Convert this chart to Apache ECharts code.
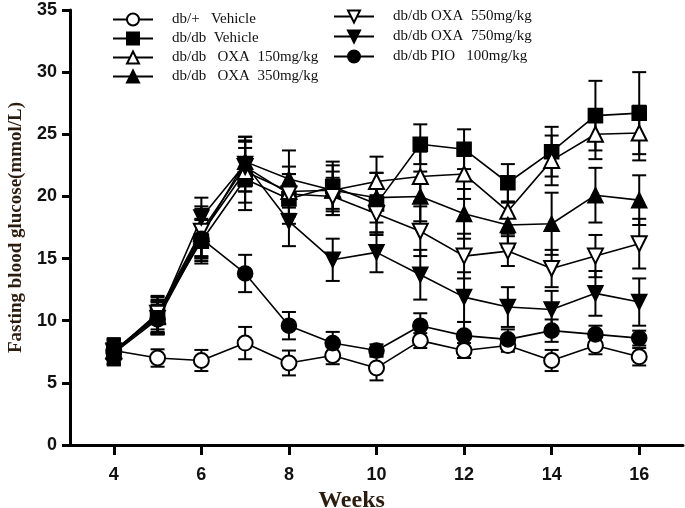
<!DOCTYPE html>
<html><head><meta charset="utf-8">
<script src="https://cdn.jsdelivr.net/npm/echarts@6/dist/echarts.min.js"></script>
<style>html,body{margin:0;padding:0;background:#fff}#c{width:685px;height:508px}</style>
</head><body><div id="c"></div>
<script>
const weeks = [4,5,6,7,8,9,10,11,12,13,14,15,16];
const xTicks = [4,6,8,10,12,14,16];
const names = ["db/+   Vehicle","db/db  Vehicle","db/db   OXA  150mg/kg","db/db   OXA  350mg/kg","db/db OXA  550mg/kg","db/db OXA  750mg/kg","db/db PIO   100mg/kg"];
const dbPlus    = [7.6,7.0,6.8,8.2,6.6,7.2,6.2,8.4,7.6,8.0,6.8,8.0,7.1];
const dbPlusErr = [0.8,0.7,0.85,1.3,1.0,0.7,1.0,0.6,0.6,0.5,0.85,0.7,0.7];
const vehicle    = [7.4,10.5,16.4,21.4,19.8,20.8,19.4,24.2,23.8,21.1,23.6,26.5,26.7];
const vehicleErr = [1.0,1.5,1.8,2.5,2.0,2.0,2.5,1.6,1.6,1.5,2.0,2.8,3.3];
const oxa150    = [7.6,10.4,17.0,22.0,20.4,20.5,21.2,21.6,21.8,18.8,22.9,25.0,25.1];
const oxa150Err = [1.0,1.3,2.0,2.5,2.0,2.0,2.0,2.0,2.0,1.8,2.0,2.0,2.2];
const oxa350    = [7.5,10.3,16.8,22.8,21.4,20.5,19.9,20.0,18.6,17.7,17.8,20.1,19.7];
const oxa350Err = [1.0,1.3,2.0,2.0,2.3,1.5,2.0,2.0,2.0,1.8,2.5,2.2,2.0];
const oxa550    = [7.5,10.6,17.2,22.4,20.2,20.0,18.6,17.2,15.2,15.6,14.2,15.2,16.2];
const oxa550Err = [1.0,1.3,2.0,2.0,1.6,1.5,1.5,2.0,1.8,1.2,1.5,1.7,2.0];
const oxa750    = [7.6,10.2,18.3,22.6,18.0,14.9,15.5,13.7,11.9,11.1,10.9,12.2,11.5];
const oxa750Err = [0.9,1.3,1.6,2.2,2.0,1.7,1.6,2.0,2.0,1.6,1.5,1.8,1.9];
const pio    = [7.4,10.1,16.6,13.8,9.6,8.2,7.6,9.6,8.8,8.5,9.2,8.9,8.6];
const pioErr = [0.9,1.2,1.5,1.5,1.1,0.9,0.5,1.0,1.1,0.8,0.9,0.7,0.6];

const values = [dbPlus,vehicle,oxa150,oxa350,oxa550,oxa750,pio];
const errs = [dbPlusErr,vehicleErr,oxa150Err,oxa350Err,oxa550Err,oxa750Err,pioErr];
const symbols = ['emptyCircle','rect','emptyTriangle','triangle','emptyTriangle','triangle','circle'];
const rotates = [0,0,0,0,180,180,0];
const sizes = [15,14,15,15,15,15,15];

const series = [];
values.forEach((vals, i) => {
  series.push({
    type: 'custom', name: names[i] + '_err', z: 1, silent: true,
    data: weeks.map((w, k) => [w, vals[k], errs[i][k]]),
    renderItem: function (params, api) {
      const x = api.value(0), y = api.value(1), e = api.value(2);
      const top = api.coord([x, y + e]), bot = api.coord([x, y - e]);
      const hw = 7;
      const st = {stroke: '#000', lineWidth: 2};
      return {type: 'group', children: [
        {type: 'line', shape: {x1: top[0], y1: top[1], x2: bot[0], y2: bot[1]}, style: st},
        {type: 'line', shape: {x1: top[0]-hw, y1: top[1], x2: top[0]+hw, y2: top[1]}, style: st},
        {type: 'line', shape: {x1: bot[0]-hw, y1: bot[1], x2: bot[0]+hw, y2: bot[1]}, style: st}
      ]};
    }
  });
});
values.forEach((vals, i) => {
  series.push({
    type: 'line', name: names[i], z: 3,
    data: weeks.map((w, k) => [w, vals[k]]),
    symbol: symbols[i], symbolRotate: rotates[i], symbolSize: sizes[i],
    showAllSymbol: true,
    lineStyle: {color: '#000', width: 1.6},
    itemStyle: {color: '#000', borderColor: '#000', borderWidth: 1.6},
    emphasis: {disabled: true}
  });
});

const chart = echarts.init(document.getElementById('c'), null, {renderer: 'canvas'});
const legendText = {fontFamily: 'Liberation Serif', fontSize: 15, color: '#111', padding: [0, 0, 0, 14]};
chart.setOption({
  animation: false,
  backgroundColor: '#fff',
  grid: {left: 70, right: 2, top: 10, bottom: 63, containLabel: false, outerBoundsMode: 'none'},
  legend: [
    {data: names.slice(0,4), orient: 'vertical', left: 107, top: 7, itemGap: 4, itemWidth: 40, itemHeight: 15, textStyle: legendText, selectedMode: false},
    {data: names.slice(4), orient: 'vertical', left: 328, top: 4, itemGap: 5, itemWidth: 40, itemHeight: 15, textStyle: legendText, selectedMode: false}
  ],
  xAxis: {
    type: 'value', min: 3, max: 17,
    name: 'Weeks', nameLocation: 'middle', nameGap: 41,
    nameTextStyle: {fontFamily: 'Liberation Serif', fontWeight: 'bold', fontSize: 24, color: '#2a1d10', padding: [0, 50, 0, 0]},
    axisLine: {lineStyle: {color: '#000', width: 3}},
    axisTick: {show: true, length: 10, lineStyle: {color: '#000', width: 3}, customValues: xTicks},
    axisLabel: {customValues: xTicks, fontFamily: 'Liberation Sans', fontWeight: 'bold', fontSize: 18, color: '#111', margin: 21},
    splitLine: {show: false}
  },
  yAxis: {
    type: 'value', min: 0, max: 35, interval: 5,
    name: 'Fasting blood glucose(mmol/L)', nameLocation: 'middle', nameGap: 43,
    nameTextStyle: {fontFamily: 'Liberation Serif', fontWeight: 'bold', fontSize: 19, color: '#2a1d10'},
    axisLine: {show: true, lineStyle: {color: '#000', width: 3}},
    axisTick: {show: true, length: 8, lineStyle: {color: '#000', width: 3}},
    axisLabel: {fontFamily: 'Liberation Sans', fontWeight: 'bold', fontSize: 18, color: '#111', margin: 13},
    splitLine: {show: false}
  },
  series: series
});
</script></body></html>
